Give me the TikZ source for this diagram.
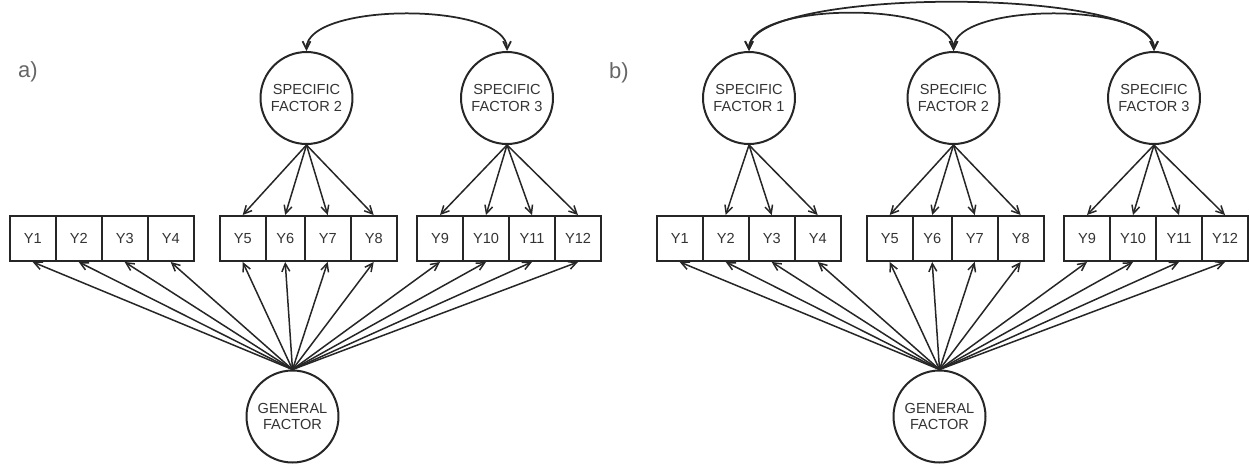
\documentclass[tikz,border=0pt]{standalone}
\usepackage{fontspec}
\setmainfont{Liberation Sans}
\usetikzlibrary{arrows.meta}

\begin{document}
\begin{tikzpicture}[x=0.02cm, y=-0.02cm]
	\tikzset{
		every node/.style={
			text=black!80,
			font=\fontsize{8.3}{9.5}\selectfont,
			align=center,
			inner sep=0pt
		},
		factor/.style={
			circle,
			draw=black!85,
			line width=0.4mm,
			minimum size=1.84cm
		},
		obs/.style={
			rectangle,
			draw=black!85,
			line width=0.4mm,
			minimum width=0.92cm,
			minimum height=0.9cm
		},
		loading/.style={
			-{Straight Barb[length=4.5pt, width=4.5pt]},
			draw=black!85,
			line width=0.3mm
		},
		covar/.style={
			{Straight Barb[length=4.5pt, width=4.5pt]}-{Straight Barb[length=4.5pt, width=4.5pt]},
			draw=black!85,
			line width=0.35mm
		},
		panellabel/.style={
			text=black!60,
			font=\fontsize{12.5}{14}\selectfont
		}
	}

	\useasboundingbox (0,0) rectangle (1250,464);

	\node[panellabel] (lab-a) at (28,72) {a)};
	\node[panellabel] (lab-b) at (619,73) {b)};

	% both panels share the bifactor part
	\foreach \p/\dx in {a/0, b/647} {
		\begin{scope}[shift={(\dx,0)}]
			\node[factor] (\p-gen) at (292.5,416.5)
				{GENERAL\\FACTOR};
			\node[factor] (\p-s2) at (306.5,98)
				{SPECIFIC\\FACTOR 2};
			\node[factor] (\p-s3) at (507,98)
				{SPECIFIC\\FACTOR 3};

			\foreach \i/\x/\w in {1/32.7/0.92, 2/78.7/0.92, 3/124.7/0.92, 4/170.7/0.92,
					5/242.7/0.92, 6/285.2/0.78, 7/327.7/0.92, 8/373.7/0.92,
					9/440/0.92, 10/486/0.92, 11/532/0.92, 12/578/0.92}
				\node[obs, minimum width=\w cm] (\p-y\i) at (\x,238.5) {Y\i};

			\foreach \i in {1,...,12}
				\draw[loading] (\p-gen.north) -- (\p-y\i.south);
			\foreach \i in {5,...,8}
				\draw[loading] (\p-s2.south) -- (\p-y\i.north);
			\foreach \i in {9,...,12}
				\draw[loading] (\p-s3.south) -- (\p-y\i.north);
		\end{scope}
	}

	\draw[covar] (a-s2.north) to[out=90, in=90, looseness=0.63] (a-s3.north);

	% panel b: first specific factor
	\node[factor] (b-s1) at (749,98)
		{SPECIFIC\\FACTOR 1};
	\foreach \i in {2,3,4}
		\draw[loading] (b-s1.south) -- (b-y\i.north);

	\draw[covar] (b-s1.north) to[out=90, in=90, looseness=0.63] (b-s2.north);
	\draw[covar] (b-s2.north) to[out=90, in=90, looseness=0.63] (b-s3.north);
	\draw[covar] (b-s1.north) to[out=90, in=90, looseness=0.41] (b-s3.north);

\end{tikzpicture}
\end{document}
